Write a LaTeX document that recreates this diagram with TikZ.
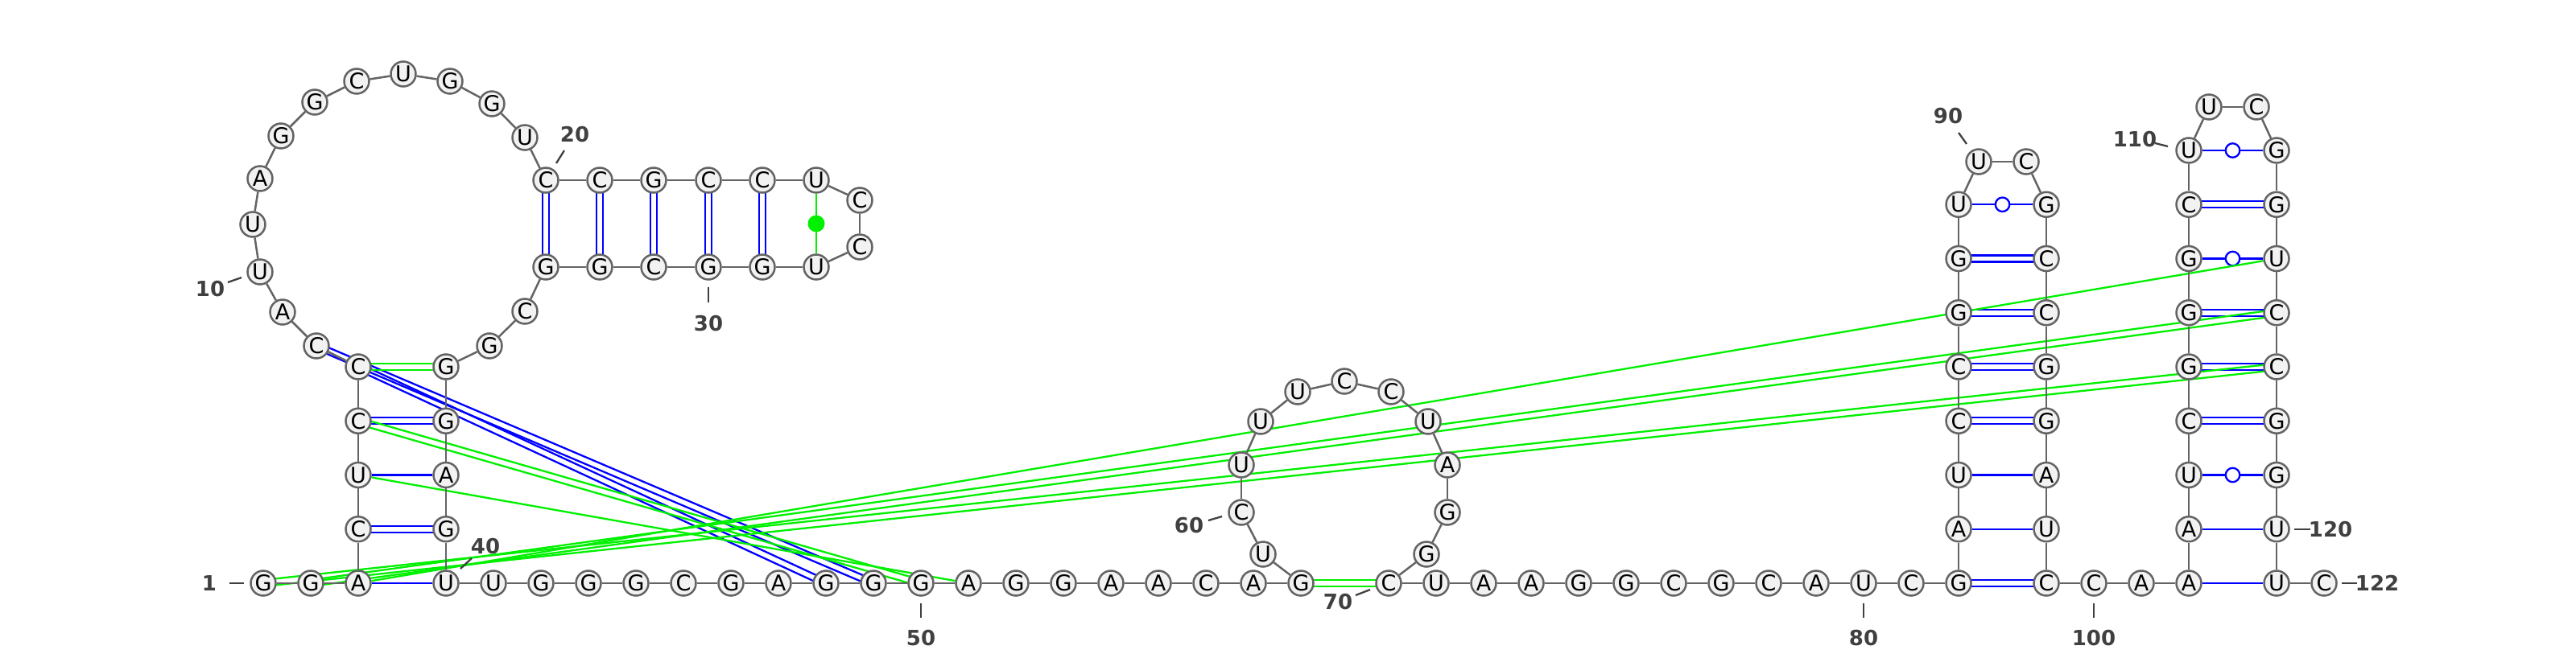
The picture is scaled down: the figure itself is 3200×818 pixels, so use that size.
\documentclass[tikz,border=0pt]{standalone}
\usepackage{fontspec}
\setmainfont{DejaVu Sans}
\usetikzlibrary{calc,backgrounds}

\definecolor{rimgray}{RGB}{100,100,100}
\definecolor{basefill}{RGB}{242,242,242}
\definecolor{pairblue}{RGB}{0,0,255}
\definecolor{pairgreen}{RGB}{0,240,0}
\definecolor{labelgray}{RGB}{64,64,64}

% two parallel strokes for a G-C pair
\newcommand{\wcpair}[3]{%
\draw[#3] ($(#1)!4pt!90:(#2)$) -- ($(#2)!4pt!-90:(#1)$);
\draw[#3] ($(#1)!4pt!-90:(#2)$) -- ($(#2)!4pt!90:(#1)$);}

\begin{document}
\begin{tikzpicture}[x=1pt,y=-1pt,
	base/.style={circle,draw=rimgray,fill=basefill,line width=2.5pt,minimum size=31pt,inner sep=0pt,font=\fontsize{27}{27}\selectfont},
	backbone/.style={draw=rimgray,line width=2.5pt},
	bluepair/.style={draw=pairblue,line width=2.3pt},
	greenpair/.style={draw=pairgreen,line width=2.3pt},
	gumark/.style={circle,draw=pairblue,fill=white,line width=2.3pt,minimum size=17.5pt,inner sep=0pt},
	dotmark/.style={circle,fill=pairgreen,minimum size=21pt,inner sep=0pt},
	tickline/.style={draw=labelgray,line width=2.3pt},
	numlabel/.style={text=labelgray,font=\fontsize{26}{26}\selectfont\bfseries,inner sep=0pt}]

\useasboundingbox (0,0) rectangle (3200,818);

%bases
\foreach \n/\x/\y/\b in {1/327/725/G, 2/386/725/G, 3/445/725/A, 4/445/657.75/C, 5/445/590.5/U,
	6/445/523.25/C, 7/445/456/C, 8/393/430/C, 9/351/388/A, 10/323/338/U,
	11/314/279/U, 12/323/222/A, 13/349/169/G, 14/391/127/G, 15/443/101/C,
	16/501/92/U, 17/559/101/G, 18/611/129/G, 19/652/171/U, 20/678/224/C,
	21/745/224/C, 22/812/224/G, 23/880/224/C, 24/947/224/C, 25/1014/224/U,
	26/1068/249/C, 27/1068/307/C, 28/1014/332/U, 29/947/332/G, 30/880/332/G,
	31/812/332/C, 32/745/332/G, 33/678/332/G, 34/652/387/C, 35/608/430/G,
	36/554/456/G, 37/554/523.25/G, 38/554/590.5/A, 39/554/657.75/G, 40/554/725/U,
	41/613/725/U, 42/672/725/G, 43/731/725/G, 44/790/725/G, 45/849/725/C,
	46/908/725/G, 47/967/725/A, 48/1026/725/G, 49/1085/725/G, 50/1144/725/G,
	51/1203/725/A, 52/1262/725/G, 53/1321/725/G, 54/1380/725/A, 55/1439/725/A,
	56/1498/725/C, 57/1557/725/A, 58/1616/725/G, 59/1569/689/U, 60/1542/637/C,
	61/1542/578/U, 62/1566/524/U, 63/1612/487/U, 64/1670/474/C, 65/1728/487/C,
	66/1774/524/U, 67/1798/578/A, 68/1798/637/G, 69/1772/689/G, 70/1725/725/C,
	71/1784/725/U, 72/1843/725/A, 73/1902/725/A, 74/1961/725/G, 75/2020/725/G,
	76/2079/725/C, 77/2138/725/G, 78/2197/725/C, 79/2256/725/A, 80/2315/725/U,
	81/2374/725/C, 82/2433/725/G, 83/2433/657.75/A, 84/2433/590.5/U, 85/2433/523.25/C,
	86/2433/456/C, 87/2433/388.75/G, 88/2433/321.5/G, 89/2433/254.25/U, 90/2458/201/U,
	91/2517/201/C, 92/2542/254.25/G, 93/2542/321.5/C, 94/2542/388.75/C, 95/2542/456/G,
	96/2542/523.25/G, 97/2542/590.5/A, 98/2542/657.75/U, 99/2542/725/C, 100/2601/725/C,
	101/2660/725/A, 102/2719/725/A, 103/2719/657.75/A, 104/2719/590.5/U, 105/2719/523.25/C,
	106/2719/456/G, 107/2719/388.75/G, 108/2719/321.5/G, 109/2719/254.25/C, 110/2719/187/U,
	111/2744/133/U, 112/2803/133/C, 113/2828/187/G, 114/2828/254.25/G, 115/2828/321.5/U,
	116/2828/388.75/C, 117/2828/456/C, 118/2828/523.25/G, 119/2828/590.5/G, 120/2828/657.75/U,
	121/2828/725/U, 122/2887/725/C}
{
	\node[base] (b\n) at (\x,\y) {\b};
}

%backbone
\foreach \i in {1, ..., 121}
{
	\pgfmathtruncatemacro{\j}{\i+1}
	\draw[backbone] (b\i) -- (b\j);
}

%pairs behind the bases
\begin{scope}[on background layer]
\foreach \p/\q in {4/39, 6/37, 20/33, 21/32, 22/31, 23/30, 24/29, 7/48, 8/49,
	82/99, 85/96, 86/95, 87/94, 88/93, 105/118, 106/117, 107/116, 109/114}
{
	\wcpair{b\p}{b\q}{bluepair}
}
\foreach \p/\q in {3/40, 5/38, 83/98, 84/97, 102/121, 103/120}
{
	\draw[bluepair] (b\p) -- (b\q);
}
\foreach \p/\q in {89/92, 104/119, 108/115, 110/113}
{
	\draw[bluepair] (b\p) -- node[gumark]{} (b\q);
}

%other pairing
\foreach \p/\q in {7/36, 6/50, 58/70, 1/117, 2/116}
{
	\wcpair{b\p}{b\q}{greenpair}
}
\draw[greenpair] (b5) -- (b51);
\draw[greenpair] (b3) -- (b115);
\draw[greenpair] (b25) -- node[dotmark]{} (b28);
\end{scope}

%numbering
\foreach \n/\ax/\ay/\bx/\by/\tx/\ty in {1/-42/0/-24/0/-67/0, 10/-40/13/-23/7/-62/21,
	20/13/-21/23/-37/36/-57, 30/0/25/0/44/0/70, 40/18/-18/32/-31/49/-46,
	50/0/25/0/43/0/68, 60/-41/10/-24/5/-65/16, 70/-41/15/-23/8/-63/23,
	80/0/25/0/43/0/68, 90/-25/-36/-15/-22/-38/-57, 100/0/25/0/43/0/68,
	110/-42/-9/-26/-5/-67/-14, 120/22/0/42/0/67/0, 122/22/0/41/0/66/0}
{
	\draw[tickline] ($(b\n)+(\ax,\ay)$) -- ($(b\n)+(\bx,\by)$);
	\node[numlabel] (n\n) at ($(b\n)+(\tx,\ty)$) {\n};
}
\end{tikzpicture}
\end{document}
